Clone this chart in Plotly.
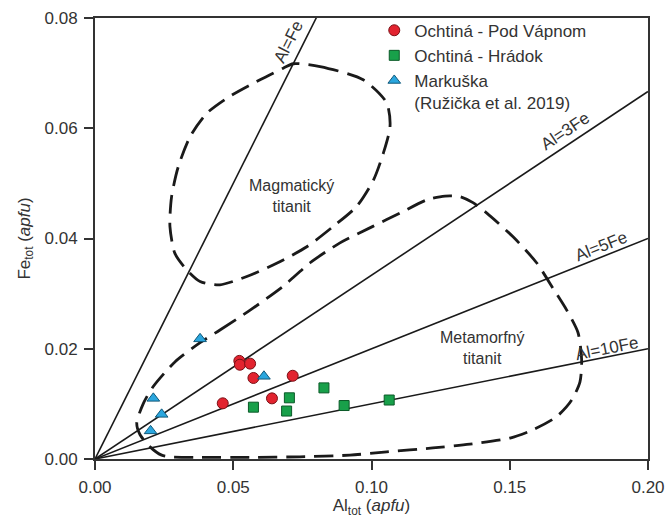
import math
import plotly.graph_objects as go

# ---- data ----
pod_vapnom_al = [0.0522, 0.0524, 0.0561, 0.0573, 0.0715, 0.0462, 0.0640]
pod_vapnom_fe = [0.0178, 0.0171, 0.0173, 0.0147, 0.0151, 0.0101, 0.0110]

hradok_al = [0.0573, 0.0703, 0.0693, 0.0828, 0.0901, 0.1064]
hradok_fe = [0.0094, 0.0111, 0.0087, 0.0129, 0.0097, 0.0107]

markuska_al = [0.0211, 0.0241, 0.0201, 0.0380, 0.0611]
markuska_fe = [0.0110, 0.0081, 0.0051, 0.0218, 0.0150]

# reference lines Al = n*Fe
ratios = [1, 3, 5, 10]
ratio_labels = ["Al=Fe", "Al=3Fe", "Al=5Fe", "Al=10Fe"]
# Al value along each line where its label sits
label_al = [0.0746, 0.1725, 0.1843, 0.1857]

# field outlines
magm_al = [0.0717, 0.0814, 0.0970, 0.1055, 0.1067, 0.1043, 0.1007, 0.0946, 0.0862,
           0.0766, 0.0657, 0.0549, 0.0452, 0.0380, 0.0332, 0.0289, 0.0271, 0.0277,
           0.0301, 0.0344, 0.0404, 0.0488, 0.0597, 0.0681, 0.0717]
magm_fe = [0.0717, 0.0712, 0.0688, 0.0646, 0.0603, 0.0555, 0.0506, 0.0458, 0.0422,
           0.0385, 0.0355, 0.0331, 0.0316, 0.0322, 0.0343, 0.0373, 0.0422, 0.0476,
           0.0530, 0.0585, 0.0627, 0.0658, 0.0688, 0.0709, 0.0717]

meta_al = [0.0380, 0.0452, 0.0561, 0.0680, 0.0778, 0.0886, 0.1005, 0.1103, 0.1200,
           0.1266, 0.1320, 0.1367, 0.1417, 0.1512, 0.1597, 0.1656, 0.1706, 0.1747,
           0.1760, 0.1754, 0.1724, 0.1670, 0.1584, 0.1501, 0.1356, 0.1222, 0.1055,
           0.0922, 0.0741, 0.0561, 0.0380, 0.0271, 0.0241, 0.0199, 0.0163, 0.0151,
           0.0175, 0.0210, 0.0289, 0.0380]
meta_fe = [0.0211, 0.0234, 0.0270, 0.0313, 0.0356, 0.0392, 0.0422, 0.0446, 0.0470,
           0.0477, 0.0476, 0.0465, 0.0446, 0.0403, 0.0356, 0.0310, 0.0270, 0.0229,
           0.0180, 0.0140, 0.0107, 0.0077, 0.0053, 0.0038, 0.0027, 0.0020, 0.0013,
           0.0007, 0.0004, 0.0003, 0.0003, 0.0004, 0.0007, 0.0022, 0.0044, 0.0065,
           0.0101, 0.0131, 0.0176, 0.0211]

x_ticks = [0.0, 0.05, 0.10, 0.15, 0.20]
y_ticks = [0.0, 0.02, 0.04, 0.06, 0.08]

FONT = "Liberation Sans, Arial, sans-serif"
TXT = "#333333"

fig = go.Figure()

x_max = 0.2
for r in ratios:
    fig.add_trace(go.Scatter(x=[0, x_max], y=[0, x_max / r], mode="lines",
                             line=dict(color="#1a1a1a", width=1.6),
                             showlegend=False, hoverinfo="skip"))

dash = "19px,9px"
for xs, ys in ((magm_al, magm_fe), (meta_al, meta_fe)):
    fig.add_trace(go.Scatter(x=xs, y=ys, mode="lines",
                             line=dict(color="#1a1a1a", width=2.8, dash=dash,
                                       shape="spline", smoothing=0.7),
                             showlegend=False, hoverinfo="skip"))

fig.add_trace(go.Scatter(x=pod_vapnom_al, y=pod_vapnom_fe, mode="markers",
                         name="Ochtiná - Pod Vápnom",
                         marker=dict(symbol="circle", size=11, color="#e2232f",
                                     line=dict(color="#7a1016", width=1))))
fig.add_trace(go.Scatter(x=hradok_al, y=hradok_fe, mode="markers",
                         name="Ochtiná - Hrádok",
                         marker=dict(symbol="square", size=10, color="#18a04a",
                                     line=dict(color="#0b5a28", width=1))))
fig.add_trace(go.Scatter(x=markuska_al, y=markuska_fe, mode="markers",
                         name="Markuška<br>(Ružička et al. 2019)",
                         marker=dict(symbol="triangle-up", size=11, color="#2aa6de",
                                     line=dict(color="#11597a", width=1))))

# plot-area pixel scale (for text angle and offset)
PW, PH = 669 - 95 - 21, 518 - 18 - 59
for t, r, xa, off in zip(ratio_labels, ratios, label_al, [14, 13, 10, 8]):
    ang = math.atan((PH / 0.08) / (PW / 0.2) / r)
    fig.add_annotation(x=xa, y=xa / r, text=t, textangle=-math.degrees(ang),
                       showarrow=False, xshift=-off * math.sin(ang),
                       yshift=off * math.cos(ang),
                       font=dict(family=FONT, size=17, color=TXT))

fig.add_annotation(x=0.0709, y=0.0477, text="Magmatický<br>titanit", showarrow=False,
                   font=dict(family=FONT, size=16, color=TXT))
fig.add_annotation(x=0.140, y=0.0201, text="Metamorfný<br>titanit", showarrow=False,
                   font=dict(family=FONT, size=16, color=TXT))

axis_common = dict(showgrid=False, zeroline=False, showline=True, linewidth=2,
                   linecolor="#333333", mirror=True, ticks="outside", ticklen=9,
                   tickwidth=2, tickcolor="#333333", automargin=False,
                   ticklabelstandoff=3,
                   tickfont=dict(family=FONT, size=17, color=TXT))

fig.update_layout(
    width=669, height=518,
    margin=dict(l=95, r=21, t=18, b=59),
    paper_bgcolor="white", plot_bgcolor="white",
    font=dict(family=FONT, color=TXT),
    xaxis=dict(range=[0, 0.2], tickvals=x_ticks, tickformat=".2f",
               title=dict(text="Al<sub>tot</sub> (<i>apfu</i>)", standoff=2,
                          font=dict(family=FONT, size=17, color=TXT)),
               **axis_common),
    yaxis=dict(range=[0, 0.08], tickvals=y_ticks, tickformat=".2f",
               title=dict(text="Fe<sub>tot</sub> (<i>apfu</i>)", standoff=10,
                          font=dict(family=FONT, size=17, color=TXT)),
               **axis_common),
    legend=dict(x=0.505, y=1.012, xanchor="left", yanchor="top",
                bgcolor="rgba(255,255,255,0)", valign="top",
                font=dict(family=FONT, size=17, color=TXT),
                tracegroupgap=0, itemwidth=30),
    showlegend=True,
)

fig.write_html("out.html",
               config={"displayModeBar": False},
               post_script="document.body.style.margin='0';"
                           "document.body.style.overflow='hidden';")
